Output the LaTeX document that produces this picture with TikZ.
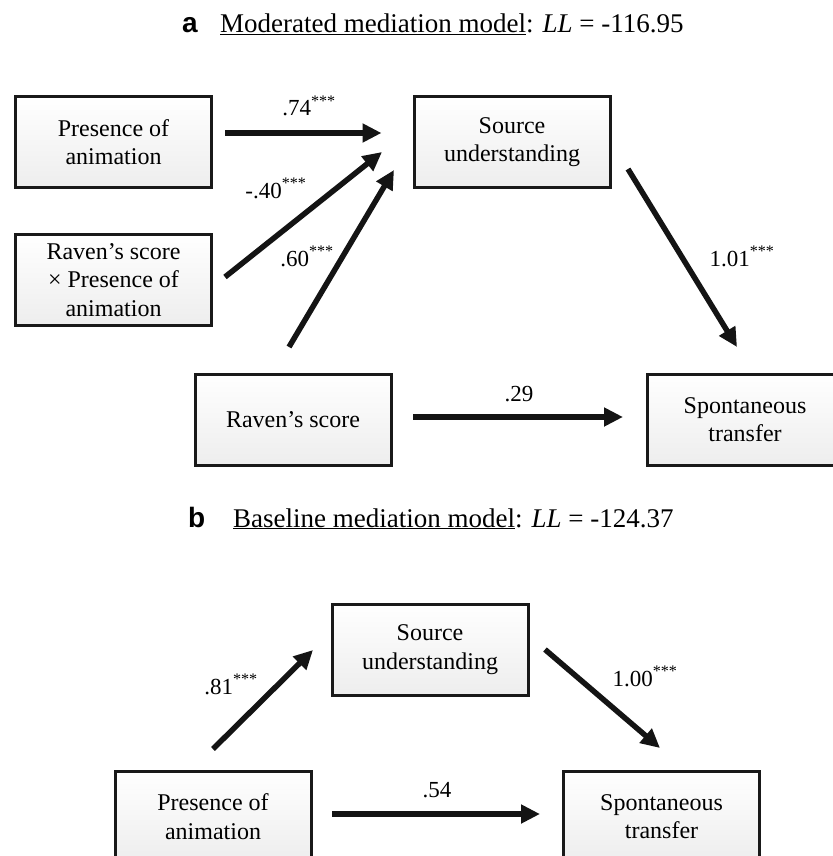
\documentclass[tikz,border=0pt]{standalone}
\usepackage{fontspec}
\setmainfont{Liberation Serif}
\newfontfamily\lsans{Liberation Sans}
\usetikzlibrary{arrows.meta}
\begin{document}
\begin{tikzpicture}[x=1pt,y=-1pt,
  box/.style={draw=black!90, line width=3pt, top color=white, bottom color=black!7,
    minimum width=196pt, minimum height=91pt, align=center, inner sep=0pt,
    font=\fontsize{24}{28.5}\selectfont},
  arr/.style={draw=black!92, line width=5.5pt, -{Triangle[length=19pt,width=18pt]}},
  lab/.style={font=\fontsize{23}{26}\selectfont, inner sep=0pt, anchor=base},
  ttl/.style={font=\fontsize{27}{30}\selectfont, anchor=base west, inner sep=0pt},
  tag/.style={font=\lsans\bfseries\fontsize{28}{30}\selectfont, anchor=base west, inner sep=0pt}]
\useasboundingbox (0,0) rectangle (832,856);

% ---- panel a ----
\node[tag] (ta) at (182,33) {a};
\node[ttl] (tat) at (220,33) {\underline{Moderated mediation model}: \textit{LL} = -116.95};

\node[box] (pa) at (113.5,142) {Presence of\\animation};
\node[box] (rx) at (113.5,280) {Raven’s score\\× Presence of\\animation};
\node[box] (su) at (512,142) {Source\\understanding};
\node[box] (rs) at (293,419.5) {Raven’s score};
\node[box] (st) at (745,419.5) {Spontaneous\\transfer};

\draw[arr] ([shift={(12,-9)}]pa.east) -- ([shift={(-31,-9)}]su.west);
\draw[arr] ([shift={(12,-3)}]rx.east) -- ([shift={(-30.5,10)}]su.west);
\draw[arr] ([shift={(-4,-25.5)}]rs.north) -- ([shift={(-18.5,28)}]su.west);
\draw[arr] ([shift={(16.5,27)}]su.east) -- ([shift={(-8,-25.5)}]st.north);
\draw[arr] ([shift={(20.5,-2.5)}]rs.east) -- ([shift={(-22.5,-2.5)}]st.west);

\node[lab] (l1) at (309,116) {.74\textsuperscript{***}};
\node[lab] (l2) at (276,198) {-.40\textsuperscript{***}};
\node[lab] (l3) at (307,266) {.60\textsuperscript{***}};
\node[lab] (l4) at (742,266) {1.01\textsuperscript{***}};
\node[lab] (l5) at (519,401) {.29};

% ---- panel b ----
\node[tag] (tb) at (188,527) {b};
\node[ttl] (tbt) at (233,527) {\underline{Baseline mediation model}: \textit{LL} = -124.37};

\node[box] (su2) at (430,649.5) {Source\\understanding};
\node[box] (pa2) at (213,816.5) {Presence of\\animation};
\node[box] (st2) at (661.5,816.5) {Spontaneous\\transfer};

\draw[arr] ([shift={(0,-20.5)}]pa2.north) -- ([shift={(-17.5,0.5)}]su2.west);
\draw[arr] ([shift={(15.5,0)}]su2.east) -- ([shift={(-1.5,-21.5)}]st2.north);
\draw[arr] ([shift={(19.5,-2.5)}]pa2.east) -- ([shift={(-22,-2.5)}]st2.west);

\node[lab] (l6) at (231,694) {.81\textsuperscript{***}};
\node[lab] (l7) at (645,686) {1.00\textsuperscript{***}};
\node[lab] (l8) at (437,797) {.54};
\end{tikzpicture}
\end{document}
